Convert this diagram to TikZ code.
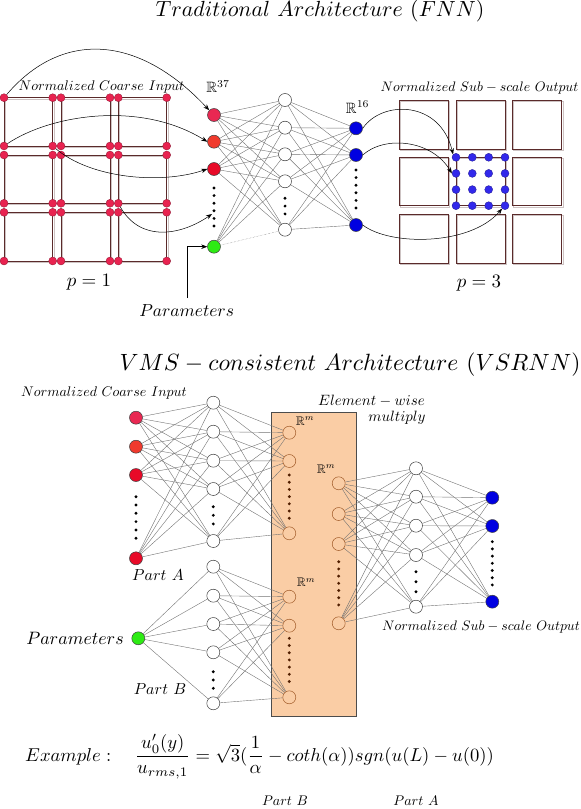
\documentclass[tikz,border=0pt]{standalone}
\usepackage{amsmath,amssymb}
\usetikzlibrary{arrows.meta}
\pgfdeclarelayer{back}
\pgfdeclarelayer{bg}
\pgfsetlayers{back,bg,main}
\definecolor{inA}{RGB}{233,40,82}
\definecolor{inB}{RGB}{240,58,45}
\definecolor{inC}{RGB}{232,10,40}
\definecolor{parG}{RGB}{45,235,20}
\definecolor{outB}{RGB}{0,0,225}
\definecolor{gridR}{RGB}{232,35,80}
\definecolor{gridB}{RGB}{50,40,235}
\definecolor{sqD}{RGB}{90,42,42}
\definecolor{sqL}{RGB}{205,195,195}
\definecolor{boxF}{RGB}{250,205,165}
\definecolor{boxN}{RGB}{160,90,40}
\definecolor{dotBr}{RGB}{80,30,0}
\tikzset{
  neu/.style={circle,draw=black!75,line width=0.5bp,minimum size=13bp,inner sep=0pt,fill=white},
  bneu/.style={circle,draw=boxN,line width=0.5bp,minimum size=13bp,inner sep=0pt},
  gdot/.style={circle,fill=gridR,draw=gridR!60!black,line width=0.3bp,minimum size=8bp,inner sep=0pt},
  bdot/.style={circle,fill=gridB,draw=gridB!60!black,line width=0.3bp,minimum size=8bp,inner sep=0pt},
  edge/.style={draw=black!55,line width=0.4bp},
  arr/.style={-{Stealth[length=6bp,width=4.5bp]},line width=0.5bp},
  lbl/.style={inner sep=0pt,anchor=base},
  sqshadow/.style={draw=sqL,line width=1bp},
  sqmain/.style={draw=sqD,line width=0.7bp}
}
\newcommand{\vdotsat}[5]{\foreach \k in {0,...,#4}{\fill[#5] (#1,{#2+\k*#3}) circle (1.6bp);}}
\newcommand{\sz}[2]{\scalebox{#1}{#2}}
\begin{document}
\begin{tikzpicture}[x=1bp,y=-1bp]
\useasboundingbox (0,0) rectangle (581,809);
% ---------- Titles
\node[lbl] (t1) at (320,16.7) {\sz{2.2}{$Traditional\ Architecture\ (FNN)$}};
\node[lbl] (t2) at (350,370) {\sz{2.36}{$VMS-consistent\ Architecture\ (VSRNN)$}};
% ---------- Top-left grid
\foreach \c/\xa/\xb in {1/4/52.7,2/61/110,3/118.3/166.7}{
  \foreach \r/\ya/\yb in {1/97.7/146,2/155/203.3,3/212.3/261}{
    \draw[sqshadow] (\xa+1.6,\ya+1.6) rectangle (\xb+1.6,\yb+1.6);
    \draw[sqmain] (\xa,\ya) rectangle (\xb,\yb);
    \node[gdot] (g\c\r a) at (\xa,\ya) {};
    \node[gdot] (g\c\r b) at (\xb,\ya) {};
    \node[gdot] (g\c\r c) at (\xa,\yb) {};
    \node[gdot] (g\c\r d) at (\xb,\yb) {};
  }
}
\node[lbl] (nci1) at (101.5,90) {\sz{1.4}{$Normalized\ Coarse\ Input$}};
\node[lbl] (p1) at (89,286.7) {\sz{1.9}{$p=1$}};
% ---------- Top network
\node[neu,fill=inA] (i1) at (214,115) {};
\node[neu,fill=inB] (i2) at (214,141.7) {};
\node[neu,fill=inC] (i3) at (214,169) {};
\node[neu,fill=parG] (pg) at (214,246.7) {};
\vdotsat{214}{188}{7.6}{5}{black}
\node[neu] (h1) at (285,100) {};
\node[neu] (h2) at (285,127.7) {};
\node[neu] (h3) at (285,154.3) {};
\node[neu] (h4) at (285,181.3) {};
\node[neu] (h5) at (285,229.7) {};
\vdotsat{285}{198.3}{7.8}{2}{black}
\node[neu,fill=outB] (o1) at (356,128.3) {};
\node[neu,fill=outB] (o2) at (356,155) {};
\node[neu,fill=outB] (o3) at (356,225) {};
\vdotsat{356}{170}{7.6}{5}{black}
\begin{pgfonlayer}{bg}
\foreach \a in {i1,i2,i3}{\foreach \b in {h1,h2,h3,h4,h5}{\draw[edge] (\a)--(\b);}}
\foreach \b in {h1,h2,h3,h4}{\draw[edge] (pg)--(\b);}
\draw[edge,densely dotted] (pg)--(h5);
\foreach \a in {h1,h2,h3,h4,h5}{\foreach \b in {o1,o2,o3}{\draw[edge] (\a)--(\b);}}
\end{pgfonlayer}
\node[lbl] (r37) at (218,92.7) {\sz{1.5}{$\mathbb{R}^{37}$}};
\node[lbl] (r16) at (357.7,113.3) {\sz{1.5}{$\mathbb{R}^{16}$}};
\node[lbl] (par1) at (186.7,316) {\sz{1.75}{$Parameters$}};
\coordinate (pa1) at (187,298);
\draw[arr] (pa1) |- (pg.west);
% ---------- Top-right output grid
\foreach \c/\xa/\xb in {1/399.3/448.3,2/456/505,3/512.3/561.7}{
  \foreach \r/\ya/\yb in {1/100/149,2/157.3/205.7,3/214.3/263.3}{
    \draw[sqshadow] (\xa+1.3,\ya+1.3) rectangle (\xb+1.3,\yb+1.3);
    \draw[sqmain] (\xa,\ya) rectangle (\xb,\yb);
  }
}
\foreach \i/\x in {1/456,2/472.3,3/488.7,4/505}{
  \foreach \j/\y in {1/157.3,2/173.4,3/189.6,4/205.7}{
    \node[bdot] (b\i\j) at (\x,\y) {};
  }
}
\node[lbl] (nso1) at (479.5,91.7) {\sz{1.38}{$Normalized\ Sub-scale\ Output$}};
\node[lbl] (p3) at (479,287.3) {\sz{1.9}{$p=3$}};
% ---------- Curved arrows top
\draw[arr] (g11a) .. controls (60,32) and (136,32) .. (i1.north west);
\draw[arr] (g11c) .. controls (50,115) and (140,100) .. (i2.west);
\draw[arr] (g11d) .. controls (90,178) and (160,185) .. (i3.west);
\coordinate (dtop) at (212,214);
\draw[arr] (g32c) .. controls (140,242) and (180,236) .. (dtop);
\draw[arr] (o1.east) .. controls (382,100) and (440,100) .. (b11.north west);
\draw[arr] (o2.east) .. controls (385,135) and (432,140) .. (b12.west);
\draw[arr] (o3.east) .. controls (390,246) and (470,246) .. (b44.south west);
% ---------- Bottom network
\begin{pgfonlayer}{back}
\draw[fill=boxF,draw=black!70,line width=0.8bp] (271.7,412.3) rectangle (356,716);
\end{pgfonlayer}
\node[neu,fill=inA] (ia1) at (136,417.7) {};
\node[neu,fill=inB] (ia2) at (136,446.7) {};
\node[neu,fill=inC] (ia3) at (136,475) {};
\node[neu,fill=inC] (ia4) at (136,558.3) {};
\vdotsat{136}{496.7}{8.3}{5}{black}
\node[neu,fill=parG] (pg2) at (138.3,638.3) {};
\node[neu] (ha1) at (213.3,402.7) {};
\node[neu] (ha2) at (213.3,431.7) {};
\node[neu] (ha3) at (213.3,460.7) {};
\node[neu] (ha4) at (213.3,489) {};
\node[neu] (ha5) at (213.3,541) {};
\vdotsat{213.3}{506.7}{8.6}{2}{black}
\node[neu] (hb1) at (213.3,566.7) {};
\node[neu] (hb2) at (213.3,595.7) {};
\node[neu] (hb3) at (213.3,624) {};
\node[neu] (hb4) at (213.3,652.3) {};
\node[neu] (hb5) at (213.3,703.3) {};
\vdotsat{213.3}{671.7}{8.3}{2}{black}
\node[bneu] (ba1) at (289.3,432.7) {};
\node[bneu] (ba2) at (289.3,461) {};
\node[bneu] (ba3) at (289.3,533.3) {};
\vdotsat{289.3}{475}{7.2}{6}{dotBr}
\node[bneu] (bb1) at (289.3,596.7) {};
\node[bneu] (bb2) at (289.3,625.7) {};
\node[bneu] (bb3) at (289.3,697.3) {};
\vdotsat{289.3}{638.3}{7.2}{6}{dotBr}
\node[bneu] (c1) at (338.7,483.3) {};
\node[bneu] (c2) at (338.7,514) {};
\node[bneu] (c3) at (338.7,544) {};
\node[bneu] (c4) at (338.7,623.3) {};
\vdotsat{338.7}{561.7}{7.2}{6}{dotBr}
\node[neu] (r1) at (416,468.3) {};
\node[neu] (r2) at (416,496.7) {};
\node[neu] (r3) at (416,525.7) {};
\node[neu] (r4) at (416,555) {};
\node[neu] (r5) at (416,606.7) {};
\vdotsat{416}{571.7}{10}{2}{black}
\node[neu,fill=outB] (q1) at (492.3,497.7) {};
\node[neu,fill=outB] (q2) at (492.3,526) {};
\node[neu,fill=outB] (q3) at (492.3,601.7) {};
\vdotsat{492.3}{541.7}{7.2}{6}{black}
\begin{pgfonlayer}{bg}
\foreach \a in {ia1,ia2,ia3,ia4}{\foreach \b in {ha1,ha2,ha3,ha4,ha5}{\draw[edge] (\a)--(\b);}}
\foreach \b in {hb1,hb2,hb3,hb4,hb5}{\draw[edge] (pg2)--(\b);}
\foreach \a in {ha1,ha2,ha3,ha4,ha5}{\foreach \b in {ba1,ba2,ba3}{\draw[edge] (\a)--(\b);}}
\foreach \a in {hb1,hb2,hb3,hb4,hb5}{\foreach \b in {bb1,bb2,bb3}{\draw[edge] (\a)--(\b);}}
\foreach \a in {c1,c2,c3,c4}{\foreach \b in {r1,r2,r3,r4,r5}{\draw[edge] (\a)--(\b);}}
\foreach \a in {r1,r2,r3,r4,r5}{\foreach \b in {q1,q2,q3}{\draw[edge] (\a)--(\b);}}
\end{pgfonlayer}
\node[lbl] (nci2) at (104,396) {\sz{1.4}{$Normalized\ Coarse\ Input$}};
\node[lbl] (pA) at (158,580.7) {\sz{1.6}{$Part\ A$}};
\node[lbl] (par2) at (75,644.3) {\sz{1.8}{$Parameters$}};
\node[lbl] (pB) at (160,694) {\sz{1.6}{$Part\ B$}};
\node[lbl] (ew1) at (371.5,405) {\sz{1.5}{$Element-wise$}};
\node[lbl] (ew2) at (397,421.7) {\sz{1.5}{$multiply$}};
\node[lbl] (rm1) at (305,425) {\sz{1.25}{$\mathbb{R}^{m}$}};
\node[lbl] (rm2) at (326,473.3) {\sz{1.25}{$\mathbb{R}^{m}$}};
\node[lbl] (rm3) at (306,586.7) {\sz{1.25}{$\mathbb{R}^{m}$}};
\node[lbl] (nso2) at (481,630.7) {\sz{1.38}{$Normalized\ Sub-scale\ Output$}};
% ---------- Equation
\node[inner sep=0pt,anchor=base west] (eq) at (25,761) {\sz{1.87}{$Example:\quad\dfrac{u_0'(y)}{u_{rms,1}}=\sqrt{3}(\dfrac{1}{\alpha}-coth(\alpha))sgn(u(L)-u(0))$}};
\node[lbl] (eB) at (285,805) {\sz{1.4}{$Part\ B$}};
\node[lbl] (eA) at (416,805) {\sz{1.4}{$Part\ A$}};
\end{tikzpicture}
\end{document}
